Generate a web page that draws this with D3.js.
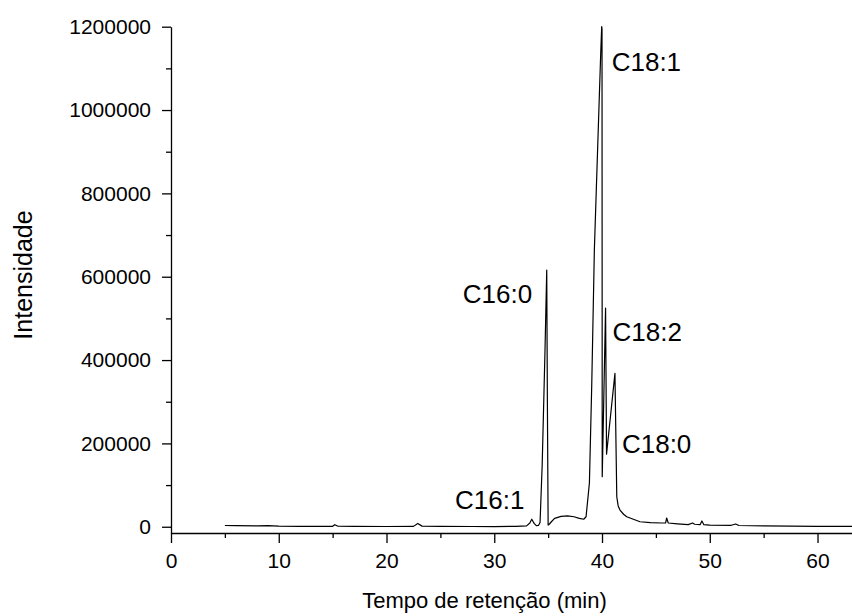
<!DOCTYPE html>
<html>
<head>
<meta charset="utf-8">
<script src="https://cdn.jsdelivr.net/npm/d3@7"></script>
<style>
  body { margin: 0; background: #fff; }
  svg { display: block; font-family: 'Liberation Sans', Arial, sans-serif; }
</style>
</head>
<body>
<div id="chart"></div>
<script>
// retention time (min) and detector intensity
let tempo = [
  5.0, 6.0, 8.0, 9.0, 10.0, 12.0, 14.0, 15.0, 15.2, 15.5, 17.0, 20.0, 22.5, 22.9, 23.3,
  25.0, 28.0, 30.0, 32.0, 33.0, 33.3, 33.48, 33.7, 33.9, 34.1, 34.25, 34.45, 34.71, 34.87,
  34.93, 35.0, 35.1, 35.3, 35.6, 36.2, 36.8, 37.4, 37.9, 38.3, 38.52, 38.83, 39.05, 39.29,
  39.44, 39.71, 39.88, 39.97, 40.0, 40.02, 40.33, 40.42, 41.2, 41.37, 41.5, 41.67, 42.0, 42.29,
  43.53, 44.5, 45.5, 45.9, 46.0, 46.15, 47.0, 48.0, 48.4, 48.6, 49.1, 49.27, 49.45, 50.0,
  52.0, 52.4, 52.7, 55.0, 60.0, 63.2
]

let intensidade = [
  3000, 2500, 2000, 2500, 1500, 1000, 800, 1000, 5000, 1200, 800, 600, 900, 8000, 1500,
  800, 600, 500, 1000, 2000, 9000, 18000, 8000, 2500, 3000, 10000, 150000, 424000, 616000,
  300000, 4000, 6000, 12000, 20000, 25000, 26000, 24000, 20000, 18000, 24000, 105000, 344000, 664000,
  784000, 1000000, 1136000, 1200000, 1195000, 120000, 525000, 174000, 368000, 72000, 50000, 40000, 30000, 24000,
  12000, 10000, 9000, 9000, 21000, 9000, 7000, 5000, 9000, 6000, 5000, 14000, 5000, 4000,
  3500, 6500, 3000, 2000, 1000, 800
]

// peak annotations
let picos = ['C16:1', 'C16:0', 'C18:1', 'C18:2', 'C18:0']
let picoTempo = [33.5, 34.87, 39.97, 40.33, 41.2]
let picoIntensidade = [18000, 616000, 1200000, 525000, 368000]

let xTicks = [0, 10, 20, 30, 40, 50, 60]
let xMinor = [5, 15, 25, 35, 45, 55]
let yTicks = [0, 200000, 400000, 600000, 800000, 1000000, 1200000]
let yMinor = [100000, 300000, 500000, 700000, 900000, 1100000]

let width = 852
let height = 616
let margin = { top: 26.7, right: 0, bottom: 83, left: 171 }

let svg = d3.select('#chart').append('svg')
  .attr('width', width)
  .attr('height', height)

let x = d3.scaleLinear()
  .domain([0, 63.2])
  .range([margin.left, width - margin.right])

let y = d3.scaleLinear()
  .domain([-15000, 1200000])
  .range([height - margin.bottom, margin.top])

let data = tempo.map((t, i) => [t, intensidade[i]])

// minor ticks first so the major axis sits on top
svg.append('g')
  .attr('transform', 'translate(0,' + (height - margin.bottom) + ')')
  .call(d3.axisBottom(x).tickValues(xMinor).tickSize(5).tickFormat(''))
  .call(g => g.select('.domain').remove())

svg.append('g')
  .attr('transform', 'translate(' + margin.left + ',0)')
  .call(d3.axisLeft(y).tickValues(yMinor).tickSize(5).tickFormat(''))
  .call(g => g.select('.domain').remove())

svg.append('g')
  .attr('class', 'x axis')
  .attr('transform', 'translate(0,' + (height - margin.bottom) + ')')
  .call(d3.axisBottom(x).tickValues(xTicks).tickSize(10).tickSizeOuter(0).tickPadding(10).tickFormat(d3.format('d')))

svg.append('g')
  .attr('class', 'y axis')
  .attr('transform', 'translate(' + margin.left + ',0)')
  .call(d3.axisLeft(y).tickValues(yTicks).tickSize(9).tickSizeOuter(0).tickPadding(11).tickFormat(d3.format('d')))

svg.selectAll('.axis text')
  .style('font-size', '21px')
  .style('fill', '#000')
  .style('font-family', "'Liberation Sans', Arial, sans-serif")

svg.selectAll('.tick line, .domain')
  .attr('stroke', '#000')
  .attr('stroke-width', 1.3)

svg.append('path')
  .datum(data)
  .attr('fill', 'none')
  .attr('stroke', '#000')
  .attr('stroke-width', 1.2)
  .attr('stroke-linejoin', 'round')
  .attr('d', d3.line().x(d => x(d[0])).y(d => y(d[1])))

// label offsets relative to each peak apex (pixels)
let dx = [-77, -84, 10, 7, 7]
let dy = [-10, 33, 44, 33, 80]

svg.selectAll('.rotulo')
  .data(picos)
  .enter().append('text')
  .attr('class', 'rotulo')
  .attr('x', (d, i) => x(picoTempo[i]) + dx[i])
  .attr('y', (d, i) => y(picoIntensidade[i]) + dy[i])
  .style('font-size', '26px')
  .text(d => d)

svg.append('text')
  .attr('x', (margin.left + width) / 2 - 27)
  .attr('y', 608)
  .attr('text-anchor', 'middle')
  .style('font-size', '22px')
  .text('Tempo de retenção (min)')

svg.append('text')
  .attr('transform', 'translate(32,275) rotate(-90)')
  .attr('text-anchor', 'middle')
  .style('font-size', '25px')
  .text('Intensidade')
</script>
</body>
</html>
